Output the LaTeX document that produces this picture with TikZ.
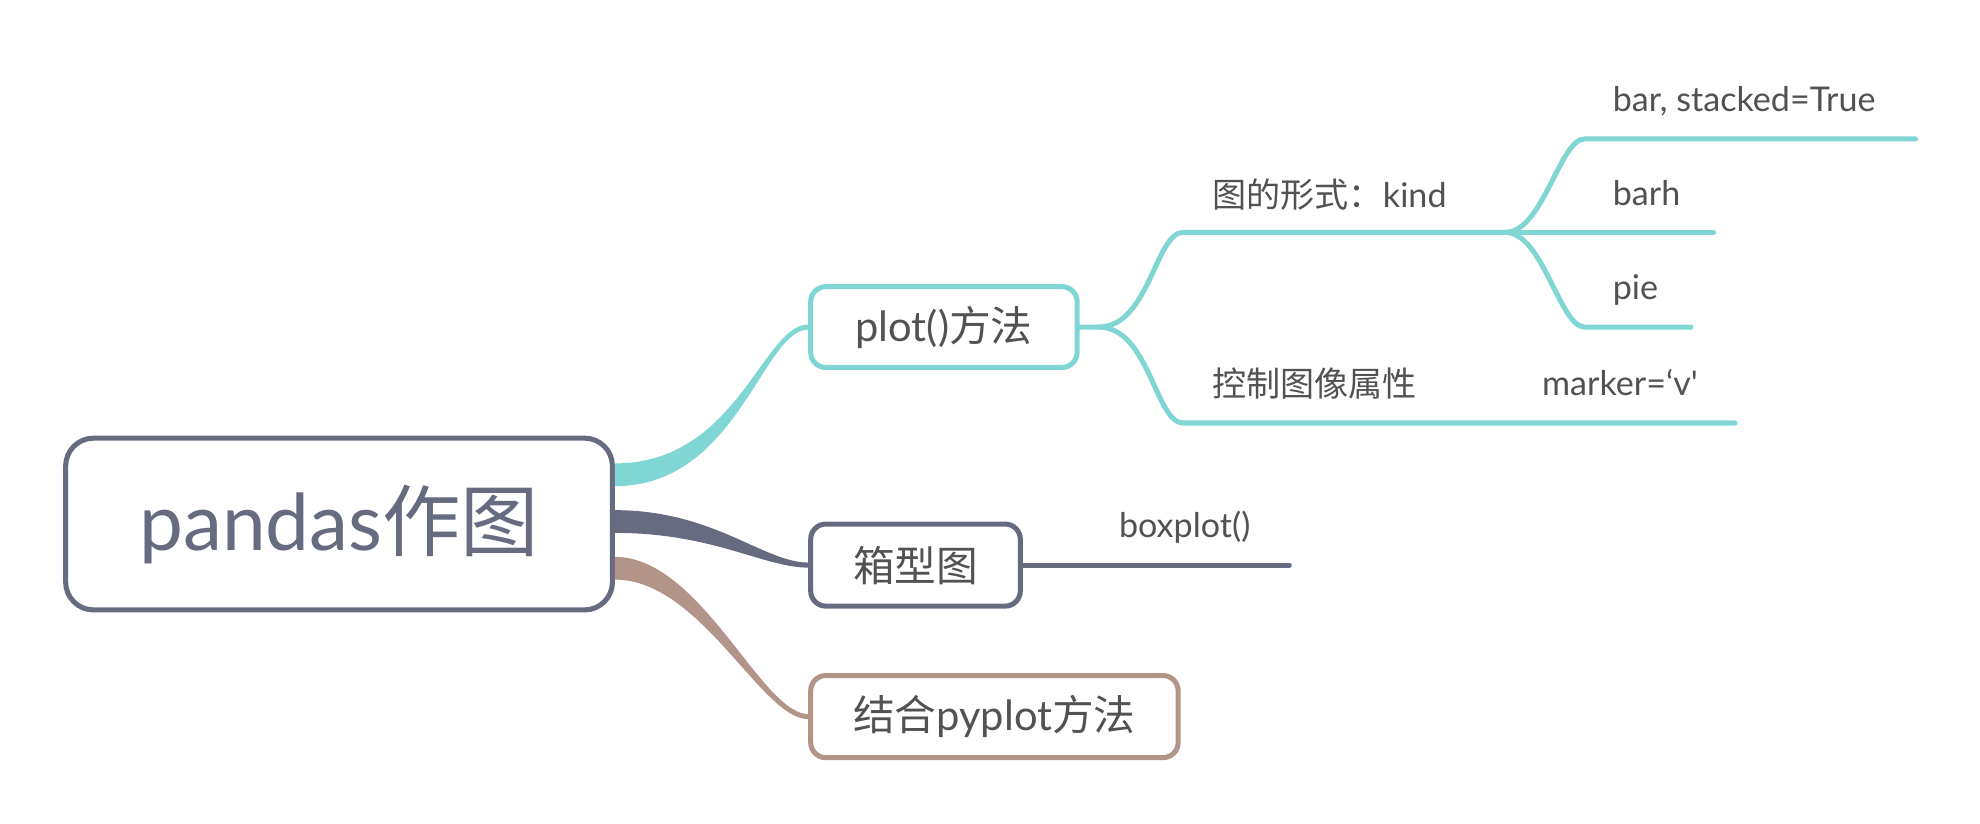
\documentclass[tikz,border=0pt]{standalone}
\usepackage{fontspec}
\setmainfont{Lato}
\newfontfamily\cjkfont{Noto Sans CJK SC}
\newfontfamily\latoplain{Lato}[Ligatures=TeXOff]
\usetikzlibrary{calc}
\definecolor{tealc}{HTML}{80D6D3}
\definecolor{slatec}{HTML}{676B80}
\definecolor{brownc}{HTML}{B39488}
\definecolor{textc}{HTML}{525252}
\newcommand{\zh}[1]{{\cjkfont #1}}
\begin{document}
\begin{tikzpicture}[x=1pt,y=-1pt,
  box/.style={draw, rounded corners=12pt, line width=4pt, fill=white, text=textc,
    font=\fontsize{33}{39}\selectfont, inner sep=0pt},
  rootbox/.style={draw=slatec, rounded corners=22pt, line width=4pt, fill=white, text=slatec,
    font=\fontsize{62}{72}\selectfont, inner sep=0pt, minimum width=433pt, minimum height=136pt},
  lbl/.style={anchor=base west, text=textc, font=\fontsize{27}{32}\selectfont, inner sep=0pt},
  branch/.style={line width=4pt, line cap=round}]
\fill[white] (0,0) rectangle (1568,652);
\useasboundingbox (0,0) rectangle (1568,652);

% main nodes
\node[rootbox] (root) at (268.5,415) {pandas\zh{作图}};
\node[box, draw=tealc, minimum width=211pt, minimum height=64pt] (plot) at (747.5,259) {plot()\zh{方法}};
\node[box, draw=slatec, minimum width=166pt, minimum height=65pt] (boxp) at (725,447.5) {\zh{箱型图}};
\node[box, draw=brownc, minimum width=291pt, minimum height=65pt] (comb) at (787.5,567.5) {\zh{结合}pyplot\zh{方法}};

% tapered connectors from root
\fill[tealc] ($(root.east)+(0,-48)$) .. controls +(97,0) and +(-36,0) .. ($(plot.west)+(0,-2)$)
  -- ($(plot.west)+(0,2)$) .. controls +(-36,0) and +(97,0) .. ($(root.east)+(0,-30)$) -- cycle;
\fill[slatec] ($(root.east)+(0,-11)$) .. controls +(78,0) and +(-35,0) .. ($(boxp.west)+(0,-2)$)
  -- ($(boxp.west)+(0,2)$) .. controls +(-35,0) and +(78,0) .. ($(root.east)+(0,7)$) -- cycle;
\fill[brownc] ($(root.east)+(0,26)$) .. controls +(68,0) and +(-37,0) .. ($(comb.west)+(0,-2)$)
  -- ($(comb.west)+(0,2)$) .. controls +(-37,0) and +(68,0) .. ($(root.east)+(0,44)$) -- cycle;

% coordinates of the branch lines
\coordinate (j1) at ($(plot.east)+(15,0)$);
\coordinate (kindL) at (937,184);
\coordinate (kindR) at (1192,184);
\coordinate (ctrlL) at (937,335);
\coordinate (ctrlR) at (1374,335);
\coordinate (barL) at (1255,110);
\coordinate (barR) at (1517,110);
\coordinate (barhR) at (1357,184);
\coordinate (pieL) at (1255,259);
\coordinate (pieR) at (1339,259);
\coordinate (bpR) at (1021,447.5);

% teal subtree
\draw[branch, tealc] (plot.east) -- (j1) .. controls +(40,0) and +(-22,0) .. (kindL) -- (kindR);
\draw[branch, tealc] (j1) .. controls +(40,0) and +(-22,0) .. (ctrlL) -- (ctrlR);
\draw[branch, tealc] (kindR) .. controls +(30,0) and +(-20,0) .. (barL) -- (barR);
\draw[branch, tealc] (kindR) -- (barhR);
\draw[branch, tealc] (kindR) .. controls +(30,0) and +(-20,0) .. (pieL) -- (pieR);

% grey subtree
\draw[branch, slatec] (boxp.east) -- (bpR);

% labels
\node[lbl] (kind) at (960,164) {\zh{图的形式：}kind};
\node[lbl] (ctrl) at (960,314) {\zh{控制图像属性}};
\node[lbl] (marker) at (1221,313) {\latoplain marker=‘v'};
\node[lbl] (bar) at (1277,88.5) {bar, stacked=True};
\node[lbl] (barh) at (1277,163) {barh};
\node[lbl] (pie) at (1277,237) {pie};
\node[lbl] (bxp) at (886,426) {boxplot()};
\end{tikzpicture}
\end{document}
